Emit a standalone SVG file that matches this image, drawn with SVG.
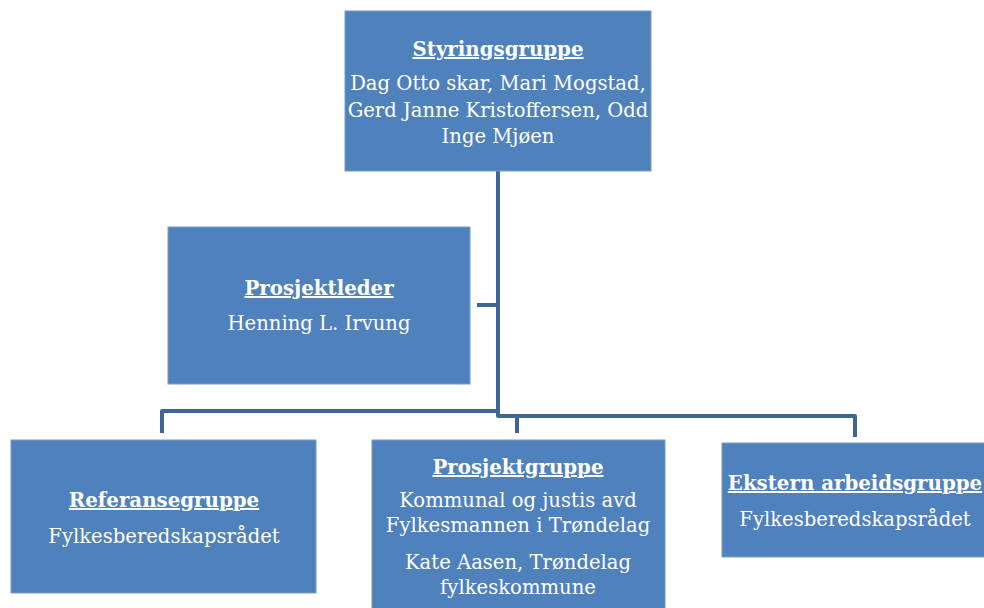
<svg xmlns="http://www.w3.org/2000/svg" width="984" height="608" viewBox="0 0 984 608">
<style>
.box{fill:#4F81BD;stroke:#7A9CC8;stroke-width:1}
.t{font-family:"DejaVu Serif","Liberation Serif",serif;font-size:19.6px;fill:#FFFFFF;text-anchor:middle}
.h{font-weight:bold;text-decoration:underline;font-size:19.8px}
.c{fill:none;stroke:#3D6696;stroke-width:4;stroke-linejoin:round}
</style>
<rect width="984" height="608" fill="#FFFFFF"/>
<g id="connectors">
<path class="c" d="M498,171 V416 H517 V433"/>
<path class="c" d="M162,433 V411 H498"/>
<path class="c" d="M498,416 H855 V437"/>
<path class="c" d="M477,305 H498"/>
</g>
<g id="styringsgruppe">
<rect class="box" x="345" y="11" width="306" height="160"/>
<text class="t h" x="498" y="56">Styringsgruppe</text>
<text class="t" x="498" y="90">Dag Otto skar, Mari Mogstad,</text>
<text class="t" x="498" y="117">Gerd Janne Kristoffersen, Odd</text>
<text class="t" x="498" y="143">Inge Mjøen</text>
</g>
<g id="prosjektleder">
<rect class="box" x="168" y="227" width="302" height="157"/>
<text class="t h" x="319" y="295">Prosjektleder</text>
<text class="t" x="319" y="330">Henning L. Irvung</text>
</g>
<g id="referansegruppe">
<rect class="box" x="11" y="440" width="305" height="153"/>
<text class="t h" x="164" y="507">Referansegruppe</text>
<text class="t" x="164" y="543">Fylkesberedskapsrådet</text>
</g>
<g id="prosjektgruppe">
<rect class="box" x="372" y="440" width="293" height="172"/>
<text class="t h" x="518" y="474">Prosjektgruppe</text>
<text class="t" x="518" y="507">Kommunal og justis avd</text>
<text class="t" x="518" y="532">Fylkesmannen i Trøndelag</text>
<text class="t" x="518" y="569">Kate Aasen, Trøndelag</text>
<text class="t" x="518" y="594">fylkeskommune</text>
</g>
<g id="ekstern">
<rect class="box" x="722" y="443" width="266" height="114"/>
<text class="t h" x="855" y="490">Ekstern arbeidsgruppe</text>
<text class="t" x="855" y="526">Fylkesberedskapsrådet</text>
</g>
</svg>
